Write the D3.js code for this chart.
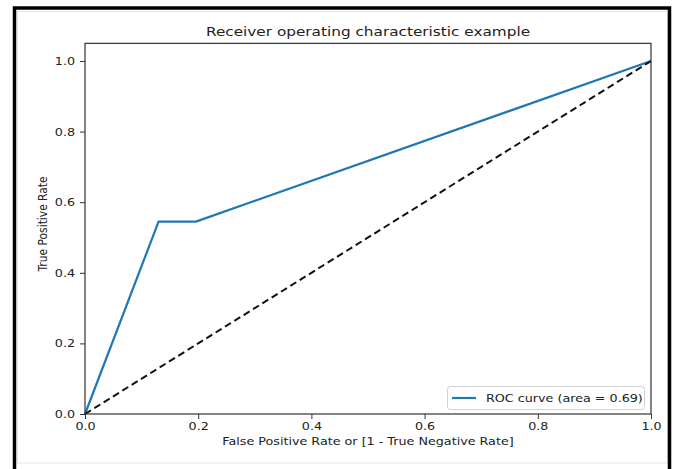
<!DOCTYPE html>
<html><head><meta charset="utf-8">
<script src="https://cdn.jsdelivr.net/npm/d3@7"></script>
<style>
html,body{margin:0;padding:0;background:#fff;}
svg{display:block;font-family:"DejaVu Sans",sans-serif;}
</style></head>
<body>
<svg id="c" width="676" height="469"></svg>
<script>
// Data
const rocFpr = [0.0, 0.13, 0.196, 1.0];
const rocTpr = [0.0, 0.545, 0.545, 1.0];
const diagX = [0, 1];
const diagY = [0, 1];
const xTicks = [0.0, 0.2, 0.4, 0.6, 0.8, 1.0];
const yTicks = [0.0, 0.2, 0.4, 0.6, 0.8, 1.0];
const titleText = "Receiver operating characteristic example";
const xLabel = "False Positive Rate or [1 - True Negative Rate]";
const yLabel = "True Positive Rate";
const legendLabel = "ROC curve (area = 0.69)";

const svg = d3.select("#c");
const txt = "#222";
const SX = 1.19; // horizontal stretch of the reference picture
const fs = "10.7px";

// outer frame (screenshot border)
svg.append("rect").attr("x",17.5).attr("y",11.5).attr("width",650).attr("height",451.5)
  .attr("fill","none").attr("stroke","#e4e4e4").attr("stroke-width",1);
svg.append("path").attr("d","M14.5,469 V8 H669.5 V469")
  .attr("fill","none").attr("stroke","#000").attr("stroke-width",3.5);

const x = d3.scaleLinear().domain([0,1]).range([85,651]);
const y = d3.scaleLinear().domain([0,1.05]).range([414,43.35]);

// lines
const line = d3.line().x(d=>x(d[0])).y(d=>y(d[1]));
svg.append("path").datum(rocFpr.map((f,i)=>[f,rocTpr[i]]))
  .attr("d",line).attr("fill","none").attr("stroke","#1f77b4").attr("stroke-width",2.2)
  .attr("stroke-linejoin","round");
svg.append("path").datum(diagX.map((v,i)=>[v,diagY[i]]))
  .attr("d",line).attr("fill","none").attr("stroke","#111").attr("stroke-width",2)
  .attr("stroke-dasharray","7,4");

// axes
const gx = svg.append("g").attr("transform",`translate(0,${y(0)})`)
  .call(d3.axisBottom(x).tickValues(xTicks).tickFormat(d3.format(".1f")).tickSize(5).tickPadding(3.5).tickSizeOuter(0));
const gy = svg.append("g").attr("transform",`translate(${x(0)},0)`)
  .call(d3.axisLeft(y).tickValues(yTicks).tickFormat(d3.format(".1f")).tickSize(5).tickPadding(3.4).tickSizeOuter(0));
[gx,gy].forEach(g=>{
  g.select(".domain").remove();
  g.selectAll("line").attr("stroke","#333");
  g.selectAll("text").attr("fill",txt).style("font-size",fs).style("font-family","DejaVu Sans")
    .attr("transform",`scale(${SX},1)`);
});
// spines
svg.append("rect").attr("x",x(0)).attr("y",y(1.05)).attr("width",x(1)-x(0)).attr("height",y(0)-y(1.05))
  .attr("fill","none").attr("stroke","#333").attr("stroke-width",1.2);

// title & labels
svg.append("text").attr("transform",`translate(${(x(0)+x(1))/2},35.5) scale(${SX},1)`).attr("text-anchor","middle")
  .attr("fill",txt).style("font-size","12.85px").text(titleText);
svg.append("text").attr("transform",`translate(${(x(0)+x(1))/2},445) scale(${SX},1)`).attr("text-anchor","middle")
  .attr("fill",txt).style("font-size",fs).text(xLabel);
svg.append("text").attr("transform",`translate(46.5,224) scale(${SX},1) rotate(-90)`).attr("text-anchor","middle")
  .attr("fill",txt).style("font-size",fs).text(yLabel);

// legend
const lg = svg.append("g");
lg.append("rect").attr("x",447.5).attr("y",386.5).attr("width",197).attr("height",23).attr("rx",3)
  .attr("fill","#fff").attr("fill-opacity",0.85).attr("stroke","#d0d0d0");
lg.append("line").attr("x1",452).attr("x2",476).attr("y1",398).attr("y2",398)
  .attr("stroke","#1f77b4").attr("stroke-width",2.2);
lg.append("text").attr("transform",`translate(486,402) scale(${SX},1)`).attr("fill",txt).style("font-size",fs).text(legendLabel);
</script>
</body></html>
